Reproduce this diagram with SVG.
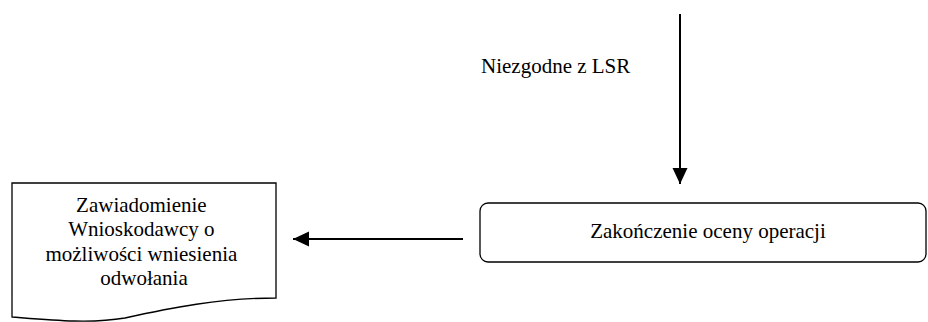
<svg xmlns="http://www.w3.org/2000/svg" width="928" height="322" viewBox="0 0 928 322">
<style>
text{font-family:"Liberation Serif","Times New Roman","DejaVu Serif",serif;font-size:21px;fill:#000}
.shape{fill:#fff;stroke:#000;stroke-width:1.3}
.conn{stroke:#000;stroke-width:2;fill:none}
</style>
<defs>
<marker id="arrB" viewBox="0 0 16 16" refX="16" refY="8" markerWidth="16" markerHeight="16" orient="auto" markerUnits="userSpaceOnUse">
<path d="M0,0.5 L16,8 L0,15.5 Z" fill="#000"/>
</marker>
</defs>
<rect width="928" height="322" fill="#fff"/>
<g id="connectors">
<line class="conn" x1="680" y1="14" x2="680" y2="184" marker-end="url(#arrB)"/>
<line class="conn" x1="463" y1="239" x2="293" y2="239" marker-end="url(#arrB)"/>
</g>
<g id="label-niezgodne">
<text x="481" y="73">Niezgodne z LSR</text>
</g>
<g id="node-zakonczenie">
<rect class="shape" x="480" y="203" width="446" height="59" rx="8" ry="8"/>
<text x="708" y="238" text-anchor="middle">Zakończenie oceny operacji</text>
</g>
<g id="node-zawiadomienie">
<path class="shape" d="M12,183 L276,183 L276,298 C220,298 170,308 125,318 C90,324 50,320 12,317 Z"/>
<text text-anchor="middle" x="144">
<tspan x="144" y="212">Zawiadomienie</tspan>
<tspan x="144" y="236">Wnioskodawcy o</tspan>
<tspan x="144" y="261">możliwości wniesienia</tspan>
<tspan x="144" y="285">odwołania</tspan>
</text>
</g>
</svg>
